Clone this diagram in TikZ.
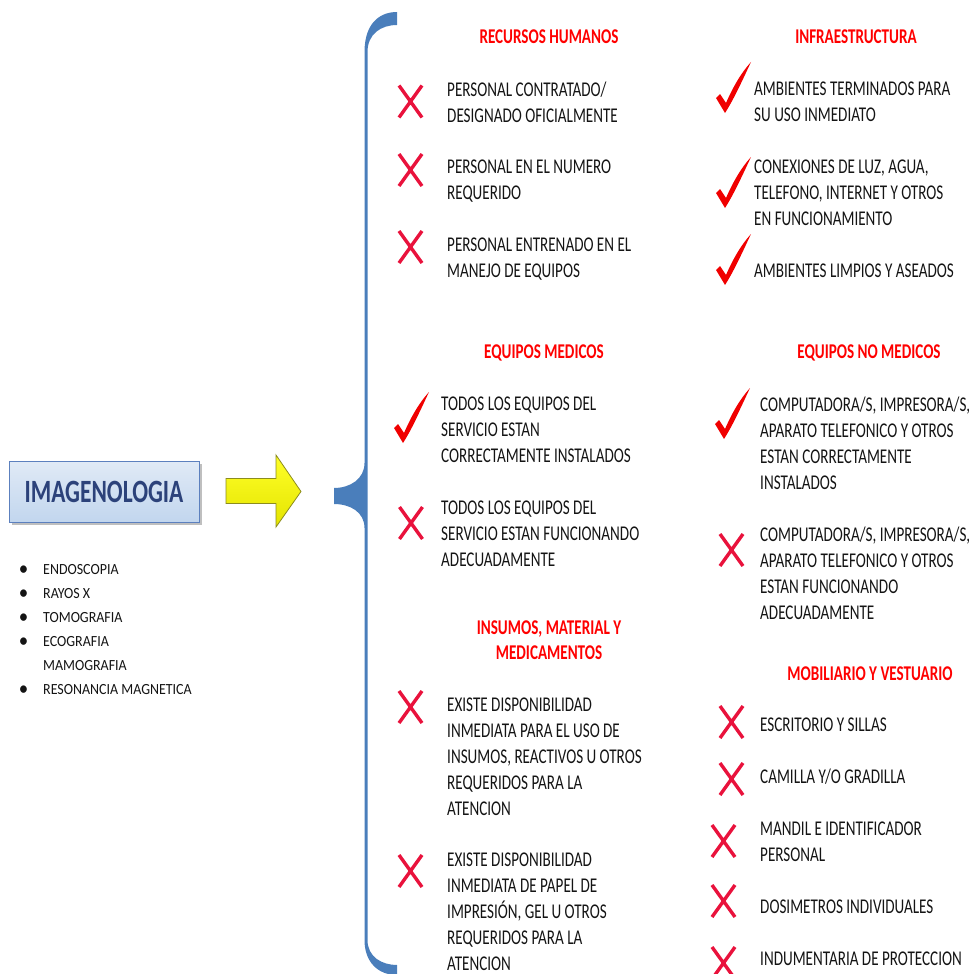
\documentclass[tikz,border=0pt]{standalone}
\usepackage{fontspec}
\setmainfont{Carlito}
\newfontfamily\bodyfont{Carlito}[FakeStretch=0.72]
\newfontfamily\listfont{Carlito}[FakeStretch=0.90]
\usetikzlibrary{shadows}

\definecolor{bracecol}{RGB}{74,126,187}
\definecolor{crosscol}{RGB}{233,18,60}
\definecolor{tickcol}{RGB}{240,0,0}
\definecolor{headcol}{RGB}{255,0,0}
\definecolor{boxtop}{RGB}{224,234,246}
\definecolor{boxbot}{RGB}{194,214,238}
\definecolor{boxline}{RGB}{92,128,190}
\definecolor{titlecol}{RGB}{44,66,122}
\definecolor{arrowtop}{RGB}{255,255,40}
\definecolor{arrowbot}{RGB}{228,228,0}
\definecolor{arrowline}{RGB}{140,140,30}
\definecolor{textcol}{RGB}{20,20,20}

\tikzset{
  bodytext/.style={anchor=north west, inner sep=0pt, align=left, text=textcol,
    font=\bodyfont\fontsize{21}{26}\selectfont,
    execute at begin node={\rule{0pt}{15pt}}},
  heading/.style={anchor=north, inner sep=0pt, align=center, text=headcol,
    font=\bodyfont\bfseries\fontsize{21}{25.5}\selectfont,
    execute at begin node={\rule{0pt}{15pt}}},
  listtext/.style={anchor=north west, inner sep=0pt, align=left, text=textcol,
    font=\listfont\fontsize{15.5}{24}\selectfont,
    execute at begin node={\rule{0pt}{9pt}}},
  imgbox/.style={draw=boxline, line width=0.8pt, top color=boxtop, bottom color=boxbot,
    minimum width=190pt, minimum height=61pt, inner sep=0pt, text=titlecol,
    font=\bodyfont\bfseries\fontsize{32.5}{36}\selectfont,
    drop shadow={shadow xshift=2.5pt, shadow yshift=-2.5pt, fill=black, opacity=0.25}},
  crossmk/.pic={\draw[crosscol, line width=3.4pt] (-11.5,-16) -- (11.5,16) (-11.5,16) -- (11.5,-16);},
  tickmk/.pic={\fill[tickcol] (0,0) -- (-9,-15) .. controls (-7.5,-17.5) .. (-5,-19) -- (1,-10)
      .. controls (8,-26) and (16,-40) .. (26,-51)
      .. controls (18,-34) and (9,-14) .. (0,0) -- cycle;}
}
\newcommand{\bul}{\llap{{\fontsize{21}{24}\selectfont\raisebox{-1pt}{\textbullet}}\hspace{15pt}}}

\begin{document}
\begin{tikzpicture}[x=1pt, y=-1pt]
\useasboundingbox (0,0) rectangle (974,974);

% service box and its list
\node[imgbox] (img) at (104,491.5) {IMAGENOLOGIA};
\node[listtext] (services) at (43,564) {\bul ENDOSCOPIA\\
  \bul RAYOS X\\
  \bul TOMOGRAFIA\\
  \bul ECOGRAFIA\\
  MAMOGRAFIA\\
  \bul RESONANCIA MAGNETICA};

% yellow block arrow
\draw[arrowline, line width=0.8pt, top color=arrowtop, bottom color=arrowbot]
  (226,478.5) -- (276,478.5) -- (276,455) -- (301,491.5) -- (276,527) -- (276,503.5) -- (226,503.5) -- cycle;

% large brace
\fill[bracecol] (397,12) .. controls (379,12) and (364.5,24) .. (364.5,52)
  -- (364.5,463) .. controls (364.5,479) and (350,488) .. (334,488)
  -- (334,504) .. controls (350,504) and (364.5,512) .. (364.5,528)
  -- (364.5,940) .. controls (364.5,962) and (378,975) .. (397,975)
  -- (397,965) .. controls (382,965) and (367.5,957) .. (367.5,940)
  -- (367.5,52) .. controls (367.5,34) and (381,25) .. (397,25) -- cycle;

% headings
\node[heading] (hRH)  at (549,28)  {RECURSOS HUMANOS};
\node[heading] (hINF) at (856,28)  {INFRAESTRUCTURA};
\node[heading] (hEM)  at (544,343) {EQUIPOS MEDICOS};
\node[heading] (hENM) at (869,343) {EQUIPOS NO MEDICOS};
\node[heading] (hIMN) at (549,620.5) {INSUMOS, MATERIAL Y\\MEDICAMENTOS};
\node[heading] (hMV)  at (870,665) {MOBILIARIO Y VESTUARIO};

% recursos humanos
\node[bodytext] (rh1) at (447,82)  {PERSONAL CONTRATADO/\\DESIGNADO OFICIALMENTE};
\node[bodytext] (rh2) at (447,160) {PERSONAL EN EL NUMERO\\REQUERIDO};
\node[bodytext] (rh3) at (447,238) {PERSONAL ENTRENADO EN EL\\MANEJO DE EQUIPOS};
\pic at (410.5,101.5) {crossmk};
\pic at (410.5,170) {crossmk};
\pic at (410.5,247) {crossmk};

% infraestructura
\node[bodytext] (inf1) at (754,82)  {AMBIENTES TERMINADOS PARA\\SU USO INMEDIATO};
\node[bodytext] (inf2) at (754,160) {CONEXIONES DE LUZ, AGUA,\\TELEFONO, INTERNET Y OTROS\\EN FUNCIONAMIENTO};
\node[bodytext] (inf3) at (754,262) {AMBIENTES LIMPIOS Y ASEADOS};
\pic at (725,113) {tickmk};
\pic at (725,208) {tickmk};
\pic at (725,285) {tickmk};

% equipos medicos
\node[bodytext] (em1) at (441,397) {TODOS LOS EQUIPOS DEL\\SERVICIO ESTAN\\CORRECTAMENTE INSTALADOS};
\node[bodytext] (em2) at (441,501) {TODOS LOS EQUIPOS DEL\\SERVICIO ESTAN FUNCIONANDO\\ADECUADAMENTE};
\pic at (403,443) {tickmk};
\pic at (411,523) {crossmk};

% equipos no medicos
\node[bodytext] (enm1) at (760,397) {COMPUTADORA/S, IMPRESORA/S,\\APARATO TELEFONICO Y OTROS\\ESTAN CORRECTAMENTE\\INSTALADOS};
\node[bodytext] (enm2) at (760,527) {COMPUTADORA/S, IMPRESORA/S,\\APARATO TELEFONICO Y OTROS\\ESTAN FUNCIONANDO\\ADECUADAMENTE};
\pic at (724,439) {tickmk};
\pic at (731.5,550) {crossmk};

% insumos, material y medicamentos
\node[bodytext] (imn1) at (447,698) {EXISTE DISPONIBILIDAD\\INMEDIATA PARA EL USO DE\\INSUMOS, REACTIVOS U OTROS\\REQUERIDOS PARA LA\\ATENCION};
\node[bodytext] (imn2) at (447,852.5) {EXISTE DISPONIBILIDAD\\INMEDIATA DE PAPEL DE\\IMPRESIÓN, GEL U OTROS\\REQUERIDOS PARA LA\\ATENCION};
\pic at (410.5,707) {crossmk};
\pic at (410.5,871) {crossmk};

% mobiliario y vestuario
\node[bodytext] (mv1) at (760,716) {ESCRITORIO Y SILLAS};
\node[bodytext] (mv2) at (760,768) {CAMILLA Y/O GRADILLA};
\node[bodytext] (mv3) at (760,822) {MANDIL E IDENTIFICADOR\\PERSONAL};
\node[bodytext] (mv4) at (760,898) {DOSIMETROS INDIVIDUALES};
\node[bodytext] (mv5) at (760,950) {INDUMENTARIA DE PROTECCION};
\pic at (731.5,722) {crossmk};
\pic at (731.5,779) {crossmk};
\pic at (723.5,841) {crossmk};
\pic at (723.5,901) {crossmk};
\pic at (723.5,963) {crossmk};
\end{tikzpicture}
\end{document}
